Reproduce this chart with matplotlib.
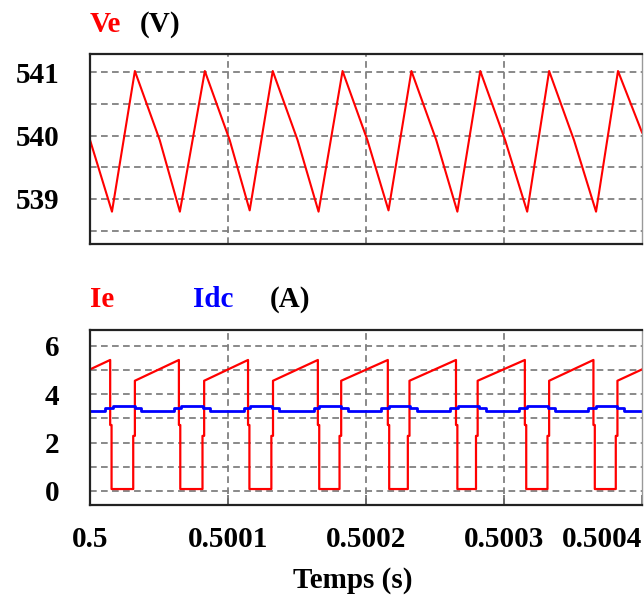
import numpy as np
import matplotlib
matplotlib.use('Agg')
import matplotlib.pyplot as plt

plt.rcParams['font.family'] = ['Liberation Serif', 'DejaVu Serif']
plt.rcParams['font.weight'] = 'bold'

# time axis: microseconds after t = 0.5 s
t0 = 0.5

# Ve (V): trough / peak instants and levels
ve_trough_us = [15.9, 65.1, 115.7, 165.6, 216.3, 266.2, 316.8, 366.7]
ve_peak_us = [32.5, 83.2, 132.4, 183.0, 232.9, 282.8, 332.7, 382.6]
ve_trough = [538.80, 538.80, 538.82, 538.80, 538.82, 538.80, 538.80, 538.80]
ve_peak = [541.02, 541.02, 541.02, 541.02, 541.02, 541.02, 541.02, 541.02]
# mid point on each falling edge: (us after peak, value)
ve_fall_mid = (18.0, 539.93)
ve_start, ve_end = 539.93, 540.05

# Ie (A): switching instants per period
ie_drop_us = [14.6, 64.4, 114.5, 165.1, 215.8, 265.2, 315.1, 364.8]
ie_rise_us = [31.3, 81.5, 131.4, 180.8, 230.3, 279.7, 331.5, 381.0]
ie_start, ie_end = 5.03, 5.03
ie_peak = 5.42
ie_mid_down = 2.73
ie_zero = 0.08
ie_mid_up = 2.28
ie_after_rise = 4.56

# Idc (A): level change instants per period
idc_up_us = [10.6, 60.8, 111.4, 162.0, 210.8, 260.8, 310.8, 360.8]
idc_high_us = [16.6, 66.1, 116.2, 166.1, 216.4, 266.4, 316.4, 366.4]
idc_down_us = [32.3, 81.7, 131.9, 181.8, 232.0, 282.0, 332.0, 382.0]
idc_low_us = [36.7, 86.6, 137.2, 187.3, 236.8, 286.8, 336.8, 386.8]
idc_low, idc_mid, idc_high = 3.32, 3.42, 3.53

xticks = [0.5, 0.5001, 0.5002, 0.5003, 0.5004]
xticklabels = ['0.5', '0.5001', '0.5002', '0.5003', '0.5004']
ve_grid = [538.5, 539, 539.5, 540, 540.5, 541]
i_grid = [0, 1, 2, 3, 4, 5, 6]


def to_s(us):
    return t0 + np.asarray(us) * 1e-6


# build Ve polyline
ve_t = [0]
ve_v = [ve_start]
for k in range(len(ve_trough_us)):
    ve_t += [ve_trough_us[k], ve_peak_us[k]]
    ve_v += [ve_trough[k], ve_peak[k]]
    if ve_peak_us[k] + ve_fall_mid[0] < 400:
        ve_t.append(ve_peak_us[k] + ve_fall_mid[0])
        ve_v.append(ve_fall_mid[1])
ve_t.append(400)
ve_v.append(ve_end)

# build Ie polyline
ie_t = [0]
ie_v = [ie_start]
for d, r in zip(ie_drop_us, ie_rise_us):
    ie_t += [d, d, d + 1.0, d + 1.0, r, r, r + 1.2, r + 1.2]
    ie_v += [ie_peak, ie_mid_down, ie_mid_down, ie_zero, ie_zero, ie_mid_up, ie_mid_up, ie_after_rise]
ie_t.append(400)
ie_v.append(ie_end)

# build Idc step line
idc_t = [0]
idc_v = [idc_low]
for a, b, c, e in zip(idc_up_us, idc_high_us, idc_down_us, idc_low_us):
    idc_t += [a, b, c, e]
    idc_v += [idc_mid, idc_high, idc_mid, idc_low]
idc_t.append(400)
idc_v.append(idc_low)

fig = plt.figure(figsize=(6.44, 5.96), dpi=100)
ax1 = fig.add_axes([0.1398, 0.5898, 0.8571, 0.3191])
ax2 = fig.add_axes([0.1398, 0.1527, 0.8571, 0.2936])

grid_kw = dict(color='#808080', linestyle=(0, (3.7, 2.4)), linewidth=1.3)

ax1.plot(to_s(ve_t), ve_v, color='#ff0000', lw=1.5)
ax1.set_xlim(0.5, 0.5004)
ax1.set_ylim(538.282, 541.284)
ax1.set_yticks([539, 540, 541])
ax1.set_yticklabels(['539', '540', '541'])

ax2.plot(to_s(ie_t), ie_v, color='#ff0000', lw=1.6)
ax2.plot(to_s(idc_t), idc_v, color='#0000ff', lw=2.0, drawstyle='steps-post')
ax2.set_xlim(0.5, 0.5004)
ax2.set_ylim(-0.58, 6.66)
ax2.set_yticks([0, 2, 4, 6])
ax2.set_yticklabels(['0', '2', '4', '6'])

for ax, gy in ((ax1, ve_grid), (ax2, i_grid)):
    ax.set_xticks(xticks)
    for y in gy:
        ax.axhline(y, zorder=0, **grid_kw)
    for x in xticks[1:-1]:
        ax.axvline(x, zorder=0, **grid_kw)
    ax.tick_params(axis='y', which='both', length=0, pad=22, labelsize=21)
    ax.tick_params(axis='x', which='both', direction='in', length=7, width=1.2,
                   color='#666666', labelsize=21, pad=15)
    for s in ('left', 'top', 'bottom'):
        ax.spines[s].set_linewidth(1.6)
        ax.spines[s].set_color('#222222')
    ax.spines['right'].set_linewidth(1.0)
    ax.spines['right'].set_color('#999999')
    for lab in ax.get_yticklabels():
        lab.set_fontweight('bold')

ax1.tick_params(axis='x', length=0, labelbottom=False)
ax2.set_xticklabels(xticklabels, fontweight='bold')
ax2.get_xticklabels()[-1].set_horizontalalignment('right')

fig.text(0.1398, 0.9463, 'Ve', color='#ff0000', fontsize=21, fontweight='bold', va='baseline')
fig.text(0.2175, 0.9463, '(V)', color='black', fontsize=21, fontweight='bold', va='baseline')
fig.text(0.1398, 0.4854, 'Ie', color='#ff0000', fontsize=21, fontweight='bold', va='baseline')
fig.text(0.2997, 0.4854, 'Idc', color='#0000ff', fontsize=21, fontweight='bold', va='baseline')
fig.text(0.4193, 0.4854, '(A)', color='black', fontsize=21, fontweight='bold', va='baseline')
fig.text(0.548, 0.0134, 'Temps (s)', color='black', fontsize=21, fontweight='bold',
         va='baseline', ha='center')

fig.savefig('out.png', dpi=100)
